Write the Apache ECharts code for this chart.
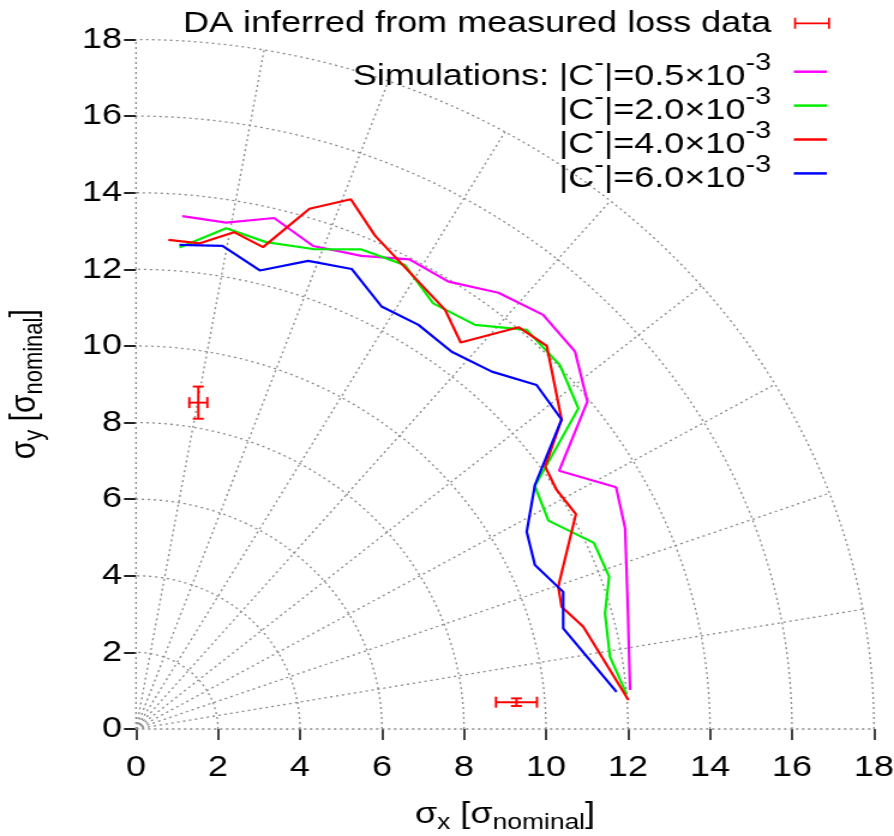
<!DOCTYPE html>
<html>
<head>
<meta charset="utf-8">
<script src="https://cdn.jsdelivr.net/npm/echarts@6/dist/echarts.min.js"></script>
<style>
  html, body { margin: 0; padding: 0; background: #fff; }
  #wrap { width: 894px; height: 836px; overflow: hidden; }
  /* the original figure is stretched sideways, so draw it narrower and widen it */
  #main { width: 745px; height: 836px; transform: scaleX(1.2); transform-origin: 0 0; }
</style>
</head>
<body>
<div id="wrap"><div id="main"></div></div>
<script>
// polar grid (drawn through the cartesian axes)
const gridRadii = [2, 4, 6, 8, 10, 12, 14, 16, 18];
const spokeAngles = [0, 10, 20, 30, 40, 50, 60, 70, 80, 90];

// measured DA with error bars
const daName = 'DA inferred from measured loss data';
const daX = [1.52, 9.28];
const daY = [8.52, 0.70];
const daXErr = [0.22, 0.50];
const daYErr = [0.42, 0.10];

// simulations, |C-| values
const simNames = ['0.5', '2.0', '4.0', '6.0'];
const simColors = ['#ff00ff', '#00ee00', '#ff0000', '#0000ff'];

const sim05X = [1.13, 2.20, 3.37, 4.32, 5.50, 6.67, 7.62, 8.84, 9.93, 10.71, 11.01, 10.32, 11.71, 11.93, 12.00, 12.05];
const sim05Y = [13.39, 13.22, 13.34, 12.61, 12.35, 12.26, 11.68, 11.39, 10.81, 9.85, 8.55, 6.74, 6.31, 5.24, 3.00, 1.02];

const sim20X = [1.06, 2.20, 3.17, 4.32, 5.50, 6.56, 7.25, 8.27, 9.53, 10.34, 10.79, 9.73, 10.06, 11.17, 11.54, 11.44, 11.56, 11.97];
const sim20Y = [12.57, 13.07, 12.71, 12.53, 12.52, 12.11, 11.11, 10.55, 10.42, 9.50, 8.37, 6.34, 5.44, 4.86, 3.98, 3.02, 1.89, 0.90];

const sim40X = [0.79, 1.56, 2.39, 3.10, 4.23, 5.24, 5.83, 7.54, 7.92, 9.33, 10.02, 10.38, 9.98, 10.26, 10.73, 10.30, 10.38, 10.91, 12.01];
const sim40Y = [12.77, 12.68, 12.97, 12.58, 13.58, 13.83, 12.88, 10.94, 10.09, 10.49, 10.00, 8.08, 6.85, 6.24, 5.61, 3.72, 3.19, 2.67, 0.76];

const sim60X = [1.06, 2.11, 3.02, 4.20, 5.26, 5.99, 6.89, 7.70, 8.68, 9.77, 10.38, 9.73, 9.53, 9.73, 10.42, 10.42, 11.72];
const sim60Y = [12.64, 12.61, 11.97, 12.22, 12.01, 11.03, 10.55, 9.85, 9.33, 8.98, 8.08, 6.37, 5.15, 4.28, 3.58, 2.63, 0.97];

const simXs = [sim05X, sim20X, sim40X, sim60X];
const simYs = [sim05Y, sim20Y, sim40Y, sim60Y];

const FONT = '"Liberation Sans", Helvetica, Arial, sans-serif';
const GRID_COLOR = '#8a8a8a';

const chart = echarts.init(document.getElementById('main'), null, { renderer: 'canvas' });

function zip(xs, ys) {
    return xs.map((x, i) => [x, ys[i]]);
}

// dotted quarter circles
function renderCircle(params, api) {
    const r = api.value(0);
    const pts = [];
    for (let a = 0; a <= 90; a += 1) {
        const t = a * Math.PI / 180;
        pts.push(api.coord([r * Math.cos(t), r * Math.sin(t)]));
    }
    return {
        type: 'polyline',
        shape: { points: pts },
        style: { stroke: GRID_COLOR, lineWidth: 1.3, lineDash: [2, 3], fill: null },
        silent: true
    };
}

// dotted spokes
function renderSpoke(params, api) {
    const t = api.value(0) * Math.PI / 180;
    const rMax = gridRadii[gridRadii.length - 1];
    const p0 = api.coord([0, 0]);
    const p1 = api.coord([rMax * Math.cos(t), rMax * Math.sin(t)]);
    return {
        type: 'line',
        shape: { x1: p0[0], y1: p0[1], x2: p1[0], y2: p1[1] },
        style: { stroke: GRID_COLOR, lineWidth: 1.3, lineDash: [2, 3] },
        silent: true
    };
}

// error bars with caps
function renderErrorBar(params, api) {
    const x = api.value(0), y = api.value(1);
    const ex = api.value(2), ey = api.value(3);
    const c = api.coord([x, y]);
    const l = api.coord([x - ex, y]);
    const r = api.coord([x + ex, y]);
    const t = api.coord([x, y + ey]);
    const b = api.coord([x, y - ey]);
    const capV = 5.5, capH = 4.6;
    const st = { stroke: '#ff0000', lineWidth: 1.9 };
    const seg = (x1, y1, x2, y2) => ({ type: 'line', shape: { x1, y1, x2, y2 }, style: st });
    return {
        type: 'group',
        children: [
            seg(l[0], c[1], r[0], c[1]),
            seg(l[0], c[1] - capV, l[0], c[1] + capV),
            seg(r[0], c[1] - capV, r[0], c[1] + capV),
            seg(c[0], t[1], c[0], b[1]),
            seg(c[0] - capH, t[1], c[0] + capH, t[1]),
            seg(c[0] - capH, b[1], c[0] + capH, b[1])
        ]
    };
}

const series = [
    {
        type: 'custom',
        name: 'circles',
        renderItem: renderCircle,
        data: gridRadii.map(r => [r]),
        z: 1,
        silent: true
    },
    {
        type: 'custom',
        name: 'spokes',
        renderItem: renderSpoke,
        data: spokeAngles.map(a => [a]),
        z: 1,
        silent: true
    },
    {
        type: 'custom',
        name: daName,
        renderItem: renderErrorBar,
        itemStyle: { color: '#ff0000' },
        data: daX.map((x, i) => [x, daY[i], daXErr[i], daYErr[i]]),
        encode: { x: 0, y: 1 },
        z: 5
    }
];

simNames.forEach((name, i) => {
    series.push({
        type: 'line',
        name: name,
        data: zip(simXs[i], simYs[i]),
        symbol: 'none',
        color: simColors[i],
        lineStyle: { width: 2.2, color: simColors[i] },
        z: 4
    });
});

const option = {
    animation: false,
    backgroundColor: '#fff',
    textStyle: { fontFamily: FONT },
    grid: { left: 113.3, right: 16.7, top: 39.5, bottom: 107, containLabel: false, outerBoundsMode: 'none' },
    legend: [
        {
            data: [{ name: daName, icon: 'path://M0,4.6H30V6.4H0Z M0,0H1.7V11H0Z M28.3,0H30V11H28.3Z' }],
            orient: 'vertical',
            align: 'right',
            right: 53.3,
            top: 8.3,
            padding: 0,
            itemWidth: 30,
            itemHeight: 11,
            selectedMode: false,
            textStyle: { fontSize: 30, color: '#000', fontFamily: FONT, padding: [0, 14, 0, 0] }
        },
        {
            data: simNames.map(n => ({ name: n, icon: 'path://M0,0H27.5V2.5H0Z' })),
            orient: 'vertical',
            align: 'right',
            right: 56,
            top: 51.2,
            padding: 0,
            itemGap: -7.1,
            itemWidth: 27.5,
            itemHeight: 11,
            selectedMode: false,
            formatter: function (name) {
                const prefix = name === simNames[0] ? 'Simulations: ' : '';
                return '{n|' + prefix + '|C}{s|-}{n||=' + name + '×10}{s|-3}';
            },
            textStyle: {
                fontFamily: FONT,
                color: '#000',
                padding: [0, 14, 0, 0],
                rich: {
                    n: { fontSize: 30, color: '#000', fontFamily: FONT, padding: [11, 0, 0, 0] },
                    s: { fontSize: 24, color: '#000', fontFamily: FONT, verticalAlign: 'top' }
                }
            }
        }
    ],
    xAxis: {
        type: 'value',
        min: 0,
        max: 18,
        interval: 2,
        name: '{n|σ}{sub|x}{n| [σ}{sub|nominal}{n|]}',
        nameLocation: 'middle',
        nameGap: 66,
        nameTextStyle: {
            rich: {
                n: { fontSize: 30, color: '#000', fontFamily: FONT },
                sub: { fontSize: 22, color: '#000', fontFamily: FONT, padding: [17, 0, 0, 0] }
            }
        },
        axisLine: { show: false },
        axisTick: { show: true, length: 11, lineStyle: { color: '#222', width: 1.7 } },
        axisLabel: { fontSize: 30, color: '#000', margin: 24, fontFamily: FONT },
        splitLine: { show: false }
    },
    yAxis: {
        type: 'value',
        min: 0,
        max: 18,
        interval: 2,
        name: '{n|σ}{sub|y}{n| [σ}{sub|nominal}{n|]}',
        nameLocation: 'middle',
        nameGap: 73,
        nameRotate: 90,
        nameTextStyle: {
            rich: {
                n: { fontSize: 30, color: '#000', fontFamily: FONT },
                sub: { fontSize: 22, color: '#000', fontFamily: FONT, padding: [17, 0, 0, 0] }
            }
        },
        axisLine: { show: false },
        axisTick: { show: true, length: 10, lineStyle: { color: '#222', width: 2 } },
        axisLabel: { fontSize: 30, color: '#000', margin: 11.7, fontFamily: FONT },
        splitLine: { show: false }
    },
    series: series
};

chart.setOption(option);
</script>
</body>
</html>
